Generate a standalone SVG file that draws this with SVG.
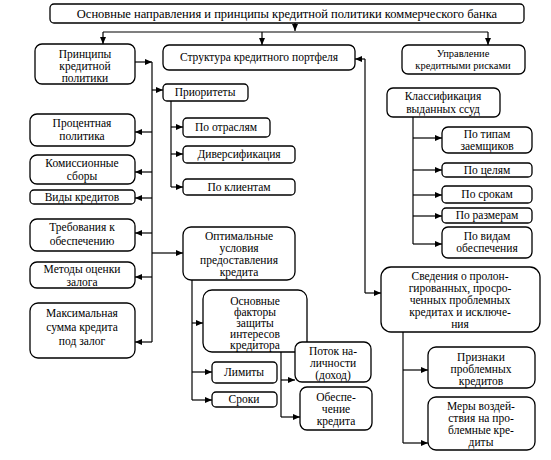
<svg xmlns="http://www.w3.org/2000/svg" width="551" height="460" viewBox="0 0 551 460">
<defs>
<marker id="ah" markerUnits="userSpaceOnUse" markerWidth="8" markerHeight="6" refX="7" refY="3" orient="auto">
<path d="M0,0 L7,3 L0,6 z" fill="#000"/>
</marker>
<style>
rect{fill:#fff;stroke:#000;stroke-width:1.3}
text{font-family:'Liberation Serif','DejaVu Serif',serif;font-size:11.5px;fill:#000;text-anchor:middle}
.c line{stroke:#000;stroke-width:1.2;fill:none}
.a{marker-end:url(#ah)}
</style>
</defs>
<rect width="551" height="460" style="fill:#fff;stroke:none"/>
<g class="c" id="connectors">
<line class="a" x1="295" y1="23" x2="295" y2="31"/>
<line x1="103" y1="32" x2="488" y2="32"/>
<line class="a" x1="103" y1="32" x2="103" y2="44"/>
<line class="a" x1="262" y1="32" x2="262" y2="45"/>
<line class="a" x1="488" y1="32" x2="488" y2="45"/>
<line class="a" x1="135" y1="62" x2="152" y2="62"/>
<line x1="152" y1="62" x2="152" y2="342"/>
<line class="a" x1="152" y1="90" x2="163" y2="90"/>
<line class="a" x1="152" y1="253" x2="183" y2="253"/>
<line class="a" x1="152" y1="132" x2="135" y2="132"/>
<line class="a" x1="152" y1="172" x2="135" y2="172"/>
<line class="a" x1="152" y1="198" x2="135" y2="198"/>
<line class="a" x1="152" y1="233" x2="135" y2="233"/>
<line class="a" x1="152" y1="277" x2="135" y2="277"/>
<line class="a" x1="152" y1="342" x2="135" y2="342"/>
<line x1="171" y1="101" x2="171" y2="187"/>
<line class="a" x1="171" y1="127" x2="183" y2="127"/>
<line class="a" x1="171" y1="154" x2="183" y2="154"/>
<line class="a" x1="171" y1="187" x2="183" y2="187"/>
<line x1="192" y1="280" x2="192" y2="400"/>
<line class="a" x1="192" y1="323" x2="203" y2="323"/>
<line class="a" x1="192" y1="372" x2="212" y2="372"/>
<line class="a" x1="192" y1="400" x2="212" y2="400"/>
<line x1="281" y1="352" x2="281" y2="417"/>
<line class="a" x1="281" y1="380" x2="295" y2="380"/>
<line class="a" x1="281" y1="417" x2="300" y2="417"/>
<line x1="365" y1="59" x2="365" y2="293"/>
<line class="a" x1="365" y1="59" x2="355" y2="59"/>
<line class="a" x1="365" y1="293" x2="381" y2="293"/>
<line x1="413" y1="117" x2="413" y2="244"/>
<line class="a" x1="413" y1="138" x2="442" y2="138"/>
<line class="a" x1="413" y1="170" x2="442" y2="170"/>
<line class="a" x1="413" y1="195" x2="442" y2="195"/>
<line class="a" x1="413" y1="216" x2="442" y2="216"/>
<line class="a" x1="413" y1="244" x2="442" y2="244"/>
<line x1="403" y1="332" x2="403" y2="443"/>
<line class="a" x1="403" y1="370" x2="428" y2="370"/>
<line class="a" x1="403" y1="443" x2="428" y2="443"/>
</g>
<g font-family="Liberation Serif, DejaVu Serif, serif">
<g id="title"><rect x="50" y="4" width="474" height="19" rx="4"/><text x="287" y="18" style="font-size:12.5px">Основные направления и принципы кредитной политики коммерческого банка</text></g>
<g id="principles"><rect x="35" y="44" width="100" height="40" rx="7"/><text x="85" y="58">Принципы</text><text x="85" y="70">кредитной</text><text x="85" y="82">политики</text></g>
<g id="structure"><rect x="163" y="45" width="192" height="25" rx="6"/><text x="259" y="61">Структура кредитного портфеля</text></g>
<g id="risk"><rect x="402" y="45" width="123" height="29" rx="6"/><text x="463" y="57" style="font-size:10.5px">Управление</text><text x="463" y="69" style="font-size:10.5px">кредитными рисками</text></g>
<g id="priorities"><rect x="163" y="84" width="85" height="17" rx="4"/><text x="205" y="96">Приоритеты</text></g>
<g id="byindustry"><rect x="183" y="118" width="87" height="19" rx="4"/><text x="226" y="131">По отраслям</text></g>
<g id="divers"><rect x="183" y="146" width="112" height="17" rx="4"/><text x="239" y="158">Диверсификация</text></g>
<g id="byclients"><rect x="183" y="179" width="112" height="16" rx="4"/><text x="239" y="191">По клиентам</text></g>
<g id="interest"><rect x="30" y="114" width="105" height="32" rx="7"/><text x="82" y="127">Процентная</text><text x="82" y="140">политика</text></g>
<g id="commission"><rect x="30" y="155" width="105" height="29" rx="7"/><text x="82" y="167">Комиссионные</text><text x="82" y="180">сборы</text></g>
<g id="types"><rect x="30" y="190" width="105" height="14" rx="4"/><text x="82" y="201">Виды кредитов</text></g>
<g id="requirements"><rect x="30" y="219" width="105" height="32" rx="7"/><text x="82" y="231">Требования к</text><text x="82" y="245">обеспечению</text></g>
<g id="methods"><rect x="30" y="262" width="105" height="26" rx="7"/><text x="82" y="273">Методы оценки</text><text x="82" y="286">залога</text></g>
<g id="maxsum"><rect x="30" y="303" width="105" height="55" rx="8"/><text x="82" y="317">Максимальная</text><text x="82" y="331">сумма кредита</text><text x="82" y="345">под залог</text></g>
<g id="optimal"><rect x="183" y="227" width="112" height="53" rx="8"/><text x="239" y="240">Оптимальные</text><text x="239" y="252">условия</text><text x="239" y="264">предоставления</text><text x="239" y="276">кредита</text></g>
<g id="factors"><rect x="203" y="290" width="104" height="62" rx="9"/><text x="255" y="305">Основные</text><text x="255" y="316">факторы</text><text x="255" y="327">защиты</text><text x="255" y="338">интересов</text><text x="255" y="349">кредитора</text></g>
<g id="limits"><rect x="212" y="362" width="65" height="21" rx="4"/><text x="244" y="376">Лимиты</text></g>
<g id="terms"><rect x="212" y="392" width="65" height="15" rx="4"/><text x="244" y="403">Сроки</text></g>
<g id="cashflow"><rect x="295" y="342" width="76" height="40" rx="7"/><text x="333" y="355">Поток на-</text><text x="333" y="367">личности</text><text x="333" y="379">(доход)</text></g>
<g id="collateral"><rect x="300" y="387" width="72" height="43" rx="7"/><text x="336" y="401">Обеспе-</text><text x="336" y="413">чение</text><text x="336" y="425">кредита</text></g>
<g id="classif"><rect x="387" y="88" width="113" height="29" rx="6"/><text x="443" y="100">Классификация</text><text x="443" y="113">выданных ссуд</text></g>
<g id="borrowers"><rect x="442" y="127" width="90" height="26" rx="6"/><text x="487" y="138">По типам</text><text x="487" y="150">заемщиков</text></g>
<g id="goals"><rect x="442" y="163" width="90" height="14" rx="4"/><text x="487" y="174">По целям</text></g>
<g id="periods"><rect x="442" y="186" width="90" height="17" rx="4"/><text x="487" y="198">По срокам</text></g>
<g id="sizes"><rect x="442" y="208" width="90" height="15" rx="4"/><text x="487" y="219">По размерам</text></g>
<g id="security"><rect x="442" y="227" width="90" height="31" rx="6"/><text x="487" y="240">По видам</text><text x="487" y="252">обеспечения</text></g>
<g id="info"><rect x="381" y="267" width="159" height="65" rx="10"/><text x="460" y="280">Сведения о пролон-</text><text x="460" y="292">гированных, просро-</text><text x="460" y="304">ченных проблемных</text><text x="460" y="316">кредитах и исключе-</text><text x="460" y="328">ния</text></g>
<g id="signs"><rect x="428" y="347" width="107" height="41" rx="8"/><text x="481" y="361">Признаки</text><text x="481" y="373">проблемных</text><text x="481" y="385">кредитов</text></g>
<g id="measures"><rect x="428" y="397" width="107" height="53" rx="8"/><text x="481" y="410">Меры воздей-</text><text x="481" y="422">ствия на про-</text><text x="481" y="434">блемные кре-</text><text x="481" y="446">диты</text></g>
</g>
</svg>
